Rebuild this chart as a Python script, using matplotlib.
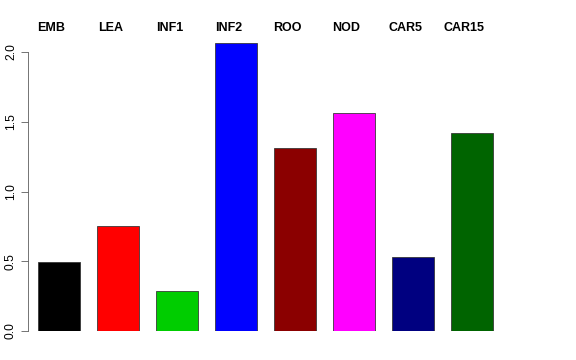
import matplotlib
matplotlib.use("Agg")
import matplotlib.pyplot as plt
import numpy as np

categories = ["EMB", "LEA", "INF1", "INF2", "ROO", "NOD", "CAR5", "CAR15"]
values = [0.495, 0.753, 0.287, 2.065, 1.312, 1.563, 0.53, 1.419]
colors = ["#000000", "#FF0000", "#00CD00", "#0000FF", "#8B0000", "#FF00FF", "#000080", "#006400"]
yticks = [0.0, 0.5, 1.0, 1.5, 2.0]

plt.rcParams['font.family'] = ['Liberation Sans', 'DejaVu Sans']

W, H = 576, 360
fig = plt.figure(figsize=(W/72, H/72), dpi=72)
left_px, right_px = 28, 546
bottom_px, top_px = 331, 38
ax = fig.add_axes([left_px/W, 1 - bottom_px/H, (right_px-left_px)/W, (bottom_px-top_px)/H])

scale = 42.1
x0_px = 21.2
ax.set_xlim((left_px - x0_px)/scale, (right_px - x0_px)/scale)
ax.set_ylim(0, (bottom_px - top_px)/139.5)

x = 0.9 + 1.4*np.arange(len(categories))
ax.bar(x, values, width=1.0, color=colors, edgecolor="#333333", linewidth=0.8)

for xi, lab in zip(x, categories):
    ax.text(xi - 0.18, 1.0 + 10/(bottom_px-top_px), lab, transform=ax.get_xaxis_transform(),
            ha="center", va="center", fontsize=12.5, fontweight="bold")

for s in ["top", "right", "bottom"]:
    ax.spines[s].set_visible(False)
ax.spines["left"].set_bounds(0, 2.0)
ax.spines["left"].set_color("#555555")
ax.set_xticks([])
ax.set_yticks(yticks)
ax.set_yticklabels([f"{v:.1f}" for v in yticks], rotation=90, va="center", fontsize=12)
ax.tick_params(axis="y", length=7, width=0.8, color="#555555", pad=4)

fig.savefig("out.png", dpi=72)
